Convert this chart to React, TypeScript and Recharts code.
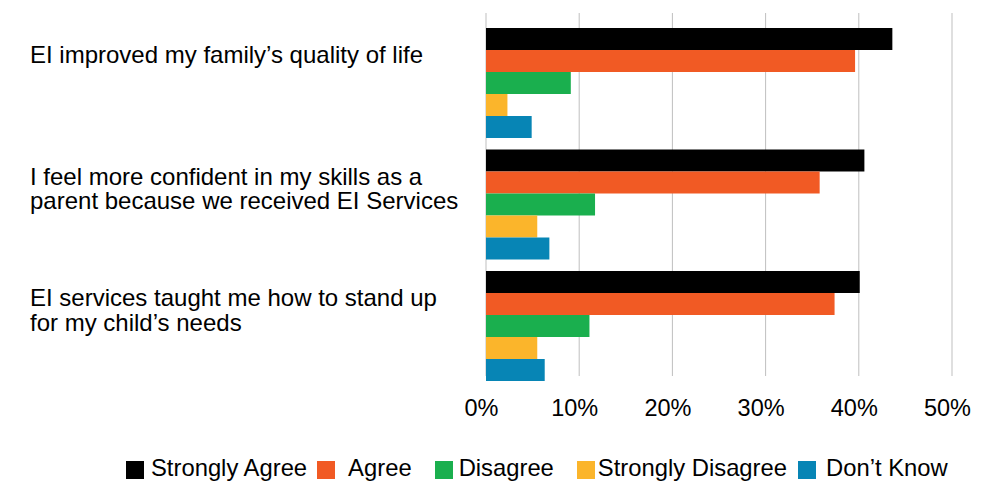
import React from 'react';
import { BarChart, Bar, XAxis, YAxis, CartesianGrid, Legend } from 'recharts';

const categories = [
  'EI improved my family’s quality of life',
  'I feel more confident in my skills as a parent because we received EI Services',
  'EI services taught me how to stand up for my child’s needs',
];
const categoryLabelLines = [
  ['EI improved my family’s quality of life'],
  ['I feel more confident in my skills as a', 'parent because we received EI Services'],
  ['EI services taught me how to stand up', 'for my child’s needs'],
];
const seriesNames = ['Strongly Agree', 'Agree', 'Disagree', 'Strongly Disagree', 'Don’t Know'];
const stronglyAgree = [43.6, 40.6, 40.1];
const agree = [39.6, 35.8, 37.4];
const disagree = [9.1, 11.7, 11.1];
const stronglyDisagree = [2.3, 5.5, 5.5];
const dontKnow = [4.9, 6.8, 6.3];
const xTicks = [0, 10, 20, 30, 40, 50];

const seriesKeys = ['sa', 'a', 'd', 'sd', 'dk'];
const seriesColors = ['#000000', '#F15A24', '#1AAF4E', '#FBB52B', '#0785B5'];
const seriesValues = [stronglyAgree, agree, disagree, stronglyDisagree, dontKnow];

const data = categories.map((name, i) => {
  const row: Record<string, string | number> = { name };
  seriesKeys.forEach((k, s) => {
    row[k] = seriesValues[s][i];
  });
  return row;
});

const FONT = '"Liberation Sans", Arial, Helvetica, sans-serif';

// legend spacing (style only)
const legendTextGap = [7, 13, 6, 3, 10];
const legendItemGap = [10, 23, 23, 11, 0];

const YTick = (props: any) => {
  const { y, payload } = props;
  const idx = categories.indexOf(payload.value);
  const lines = categoryLabelLines[idx] || [String(payload.value)];
  return (
    <text x={30} y={y - 18.5} fontSize={24} fill="#000" fontFamily={FONT} textAnchor="start">
      {lines.map((l, i) => (
        <tspan key={i} x={30} dy={i === 0 ? 0 : 24.5}>
          {l}
        </tspan>
      ))}
    </text>
  );
};

const renderLegend = (props: any) => {
  const payload = [...(props.payload || [])].sort(
    (p: any, q: any) => seriesKeys.indexOf(p.dataKey) - seriesKeys.indexOf(q.dataKey)
  );
  return (
    <div
      style={{
        display: 'flex',
        alignItems: 'flex-start',
        paddingLeft: 126,
        height: 26,
        fontFamily: FONT,
        fontSize: 23.8,
        lineHeight: '26px',
        color: '#000',
        whiteSpace: 'nowrap',
      }}
    >
      {payload.map((entry: any, i: number) => (
        <div key={i} style={{ display: 'flex', alignItems: 'flex-start', marginRight: legendItemGap[i] }}>
          <div style={{ width: 18, height: 18, marginTop: 6, background: entry.color, marginRight: legendTextGap[i] }} />
          <span>{entry.value}</span>
        </div>
      ))}
    </div>
  );
};

export default function App() {
  return (
    <div style={{ position: 'absolute', left: 0, top: 0, width: 997, height: 481, background: '#fff' }}>
      <BarChart
        width={997}
        height={481}
        data={data}
        layout="vertical"
        margin={{ top: 21, right: 45, bottom: 0, left: 0 }}
        barCategoryGap={7}
        barGap={0}
      >
        <CartesianGrid horizontal={false} stroke="#BFBFBF" y={13} height={363} />
        <XAxis
          type="number"
          domain={[0, 50]}
          ticks={xTicks}
          tickFormatter={(v: number) => `${v}%`}
          axisLine={false}
          tickLine={false}
          height={95.5}
          tickMargin={8}
          interval={0}
          tick={{ fontSize: 23.5, fill: '#000', fontFamily: FONT, dx: -4.5 }}
        />
        <YAxis
          type="category"
          dataKey="name"
          width={486}
          axisLine={false}
          tickLine={false}
          tick={<YTick />}
          interval={0}
        />
        <Legend
          content={renderLegend}
          layout="horizontal"
          verticalAlign="middle"
          align="center"
          wrapperStyle={{ top: 455, left: 0, width: 997, height: 26 }}
        />
        {seriesKeys.map((k, s) => (
          <Bar key={k} dataKey={k} name={seriesNames[s]} fill={seriesColors[s]} isAnimationActive={false} />
        ))}
      </BarChart>
    </div>
  );
}
